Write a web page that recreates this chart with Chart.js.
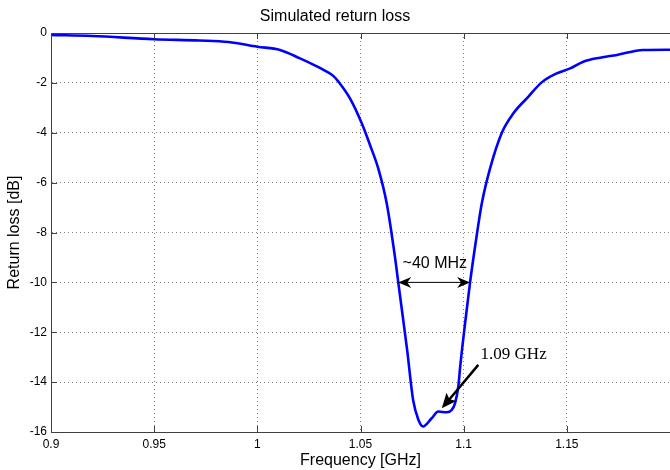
<!DOCTYPE html>
<html>
<head>
<meta charset="utf-8">
<title>Simulated return loss</title>
<script src="https://cdn.jsdelivr.net/npm/chart.js@4/dist/chart.umd.min.js"></script>
<style>
  html, body { margin: 0; padding: 0; background: #fff; }
  #wrap { width: 670px; height: 470px; }
</style>
</head>
<body>
<div id="wrap"><canvas id="rlChart" width="670" height="470"></canvas></div>
<script>
/* =========================
   DATA
========================= */

const freqGHz = [
  0.900, 0.920, 0.950, 0.972, 0.986, 1.000, 1.011, 1.0207, 1.0271, 1.0336,
  1.0368, 1.0393, 1.0449, 1.0506, 1.0546, 1.0586, 1.0627, 1.0667, 1.0683, 1.0726,
  1.0755, 1.0780, 1.0803, 1.0845, 1.0877, 1.0918, 1.0942, 1.0958, 1.0974, 1.0983,
  1.1007, 1.1031, 1.1065, 1.1088, 1.1128, 1.1185, 1.1241, 1.1314, 1.1378, 1.1451,
  1.1516, 1.158, 1.1661, 1.1743, 1.187, 1.200
];

const returnLossDb = [
  -0.08, -0.12, -0.25, -0.30, -0.36, -0.55, -0.68, -1.02, -1.27, -1.55,
  -1.72, -1.95, -2.62, -3.62, -4.49, -5.43, -6.83, -8.98, -10.0, -12.71,
  -14.72, -15.5, -15.78, -15.45, -15.18, -15.21, -15.12, -14.85, -14.18, -13.39,
  -11.63, -10.0, -8.02, -6.83, -5.43, -4.0, -3.22, -2.55, -1.98, -1.62,
  -1.42, -1.15, -0.99, -0.88, -0.68, -0.67
];

const xTickValues = [0.9, 0.95, 1, 1.05, 1.1, 1.15];
const yTickValues = [0, -2, -4, -6, -8, -10, -12, -14, -16];

// annotation anchors, in data units
const bwArrow = { from: [1.0683, -10], to: [1.1031, -10], label: "~40 MHz", labelAt: [1.086, -9.25] };
const fArrow = { from: [1.1071, -13.31], to: [1.0894, -15.05], label: "1.09 GHz", labelAt: [1.1082, -12.91] };

/* =========================
   HELPERS
========================= */

const SANS = '"Liberation Sans", Arial, sans-serif';
const SERIF = '"Liberation Serif", "Times New Roman", serif';

function arrowHead(ctx, tipX, tipY, ang, len, half, notch) {
  const c = Math.cos(ang), s = Math.sin(ang);
  const bx = tipX - c * len, by = tipY - s * len;
  ctx.beginPath();
  ctx.moveTo(tipX, tipY);
  ctx.lineTo(bx - s * half, by + c * half);
  ctx.lineTo(tipX - c * (len - notch), tipY - s * (len - notch));
  ctx.lineTo(bx + s * half, by - c * half);
  ctx.closePath();
  ctx.fill();
}

const extras = {
  id: "extras",
  afterDraw(chart) {
    const { ctx, chartArea: a, scales: { x, y } } = chart;
    ctx.save();

    // frame top + inward tick marks (matlab style)
    ctx.strokeStyle = "#404040";
    ctx.lineWidth = 1;
    ctx.beginPath();
    ctx.moveTo(a.left, a.top + 0.5);
    ctx.lineTo(a.right, a.top + 0.5);
    xTickValues.forEach(v => {
      const px = Math.round(x.getPixelForValue(v)) + 0.5;
      ctx.moveTo(px, a.bottom); ctx.lineTo(px, a.bottom - 6);
      ctx.moveTo(px, a.top); ctx.lineTo(px, a.top + 6);
    });
    yTickValues.forEach(v => {
      const py = Math.round(y.getPixelForValue(v)) + 0.5;
      ctx.moveTo(a.left, py); ctx.lineTo(a.left + 6, py);
    });
    ctx.stroke();

    // bandwidth double arrow
    const x1 = x.getPixelForValue(bwArrow.from[0]), y1 = y.getPixelForValue(bwArrow.from[1]);
    const x2 = x.getPixelForValue(bwArrow.to[0]), y2 = y.getPixelForValue(bwArrow.to[1]);
    ctx.strokeStyle = "#000";
    ctx.fillStyle = "#000";
    ctx.lineWidth = 1;
    ctx.beginPath();
    ctx.moveTo(x1, y1); ctx.lineTo(x2, y2);
    ctx.stroke();
    arrowHead(ctx, x1, y1, Math.PI, 13, 5.5, 4);
    arrowHead(ctx, x2, y2, 0, 13, 5.5, 4);

    ctx.font = "16px " + SANS;
    ctx.textAlign = "center";
    ctx.textBaseline = "middle";
    ctx.fillText(bwArrow.label, x.getPixelForValue(bwArrow.labelAt[0]), y.getPixelForValue(bwArrow.labelAt[1]));

    // 1.09 GHz arrow
    const ax = x.getPixelForValue(fArrow.from[0]), ay = y.getPixelForValue(fArrow.from[1]);
    const bx = x.getPixelForValue(fArrow.to[0]), by = y.getPixelForValue(fArrow.to[1]);
    const ang = Math.atan2(by - ay, bx - ax);
    ctx.lineWidth = 2.5;
    ctx.beginPath();
    ctx.moveTo(ax, ay);
    ctx.lineTo(bx - Math.cos(ang) * 8, by - Math.sin(ang) * 8);
    ctx.stroke();
    arrowHead(ctx, bx, by, ang, 15, 6.5, 3);

    ctx.font = "17px " + SERIF;
    ctx.textAlign = "left";
    ctx.fillText(fArrow.label, x.getPixelForValue(fArrow.labelAt[0]), y.getPixelForValue(fArrow.labelAt[1]));

    ctx.restore();
  }
};

/* =========================
   CHART
========================= */

Chart.defaults.color = "#000";
Chart.defaults.font.family = SANS;

const gridStyle = {
  color: "#808080",
  lineWidth: 1,
  drawTicks: false
};

new Chart(document.getElementById("rlChart"), {
  type: "line",
  data: {
    datasets: [{
      label: "Return loss",
      data: freqGHz.map((f, i) => ({ x: f, y: returnLossDb[i] })),
      borderColor: "#0000ff",
      borderWidth: 2.6,
      pointRadius: 0,
      fill: false,
      cubicInterpolationMode: "monotone"
    }]
  },
  options: {
    responsive: false,
    animation: false,
    events: [],
    layout: { padding: 0 },
    plugins: {
      legend: { display: false },
      tooltip: { enabled: false },
      title: {
        display: true,
        text: "Simulated return loss",
        font: { size: 16, weight: "normal" },
        padding: { top: 7.4, bottom: 6.4 }
      }
    },
    scales: {
      x: {
        type: "linear",
        min: 0.9,
        max: 1.2,
        afterBuildTicks: s => { s.ticks = xTickValues.map(v => ({ value: v })); },
        afterFit: s => { s.height = 38; },
        ticks: {
          padding: 5,
          maxRotation: 0,
          autoSkip: false,
          font: { size: 12 },
          callback: v => String(v)
        },
        grid: Object.assign({}, gridStyle),
        border: { display: true, color: "#404040", width: 1, dash: [1, 3] },
        title: {
          display: true,
          text: "Frequency [GHz]",
          font: { size: 16 },
          padding: { top: 0, bottom: 0 }
        }
      },
      y: {
        type: "linear",
        min: -16,
        max: 0,
        afterBuildTicks: s => { s.ticks = yTickValues.map(v => ({ value: v })); },
        afterFit: s => { s.width = 51; },
        ticks: {
          padding: 4,
          autoSkip: false,
          font: { size: 12 },
          callback: v => String(v)
        },
        grid: Object.assign({}, gridStyle),
        border: { display: true, color: "#404040", width: 1, dash: [1, 3] },
        title: {
          display: true,
          text: "Return loss [dB]",
          font: { size: 16 },
          padding: { top: 5.4, bottom: 0 }
        }
      }
    }
  },
  plugins: [extras]
});
</script>
</body>
</html>
